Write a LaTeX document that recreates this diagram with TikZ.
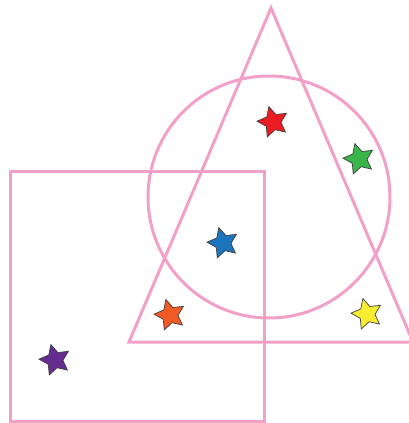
\documentclass[tikz,border=0pt]{standalone}
\usetikzlibrary{shapes.geometric}
\definecolor{pinkline}{HTML}{F3A0C8}
\definecolor{sred}{HTML}{EC1C24}
\definecolor{sgreen}{HTML}{39B54A}
\definecolor{sblue}{HTML}{1C75BC}
\definecolor{sorange}{HTML}{F15A24}
\definecolor{syellow}{HTML}{F9ED32}
\definecolor{spurple}{HTML}{662D91}
\tikzset{
  shapeline/.style={draw=pinkline, line width=3pt},
  astar/.style={star, star points=5, star point ratio=2.0, minimum size=32pt, inner sep=0pt,
    draw=black!75, line width=0.7pt, fill=#1, rotate=15}
}
\begin{document}
\begin{tikzpicture}[x=1pt,y=-1pt]
\useasboundingbox (0,0) rectangle (409,423);
\begin{scope}
\clip (0,0) rectangle (409,423);
\coordinate (rtl) at (10,171);
\coordinate (rbr) at (264,421);
\draw[shapeline] (rtl) rectangle (rbr);
\coordinate (cc) at (269,197);
\draw[shapeline] (cc) circle (121);
\coordinate (ta) at (271,8);
\coordinate (tl) at (129,342);
\coordinate (tr) at (413,342);
\draw[shapeline, line join=miter] (ta) -- (tl) -- (tr) -- cycle;
\end{scope}
\node[astar=sred] (red) at (273,122) {};
\node[astar=sgreen] (green) at (359,159) {};
\node[astar=sblue] (blue) at (223,243) {};
\node[astar=sorange] (orange) at (170,315) {};
\node[astar=syellow] (yellow) at (367,314) {};
\node[astar=spurple] (purple) at (55,360) {};
\end{tikzpicture}
\end{document}
